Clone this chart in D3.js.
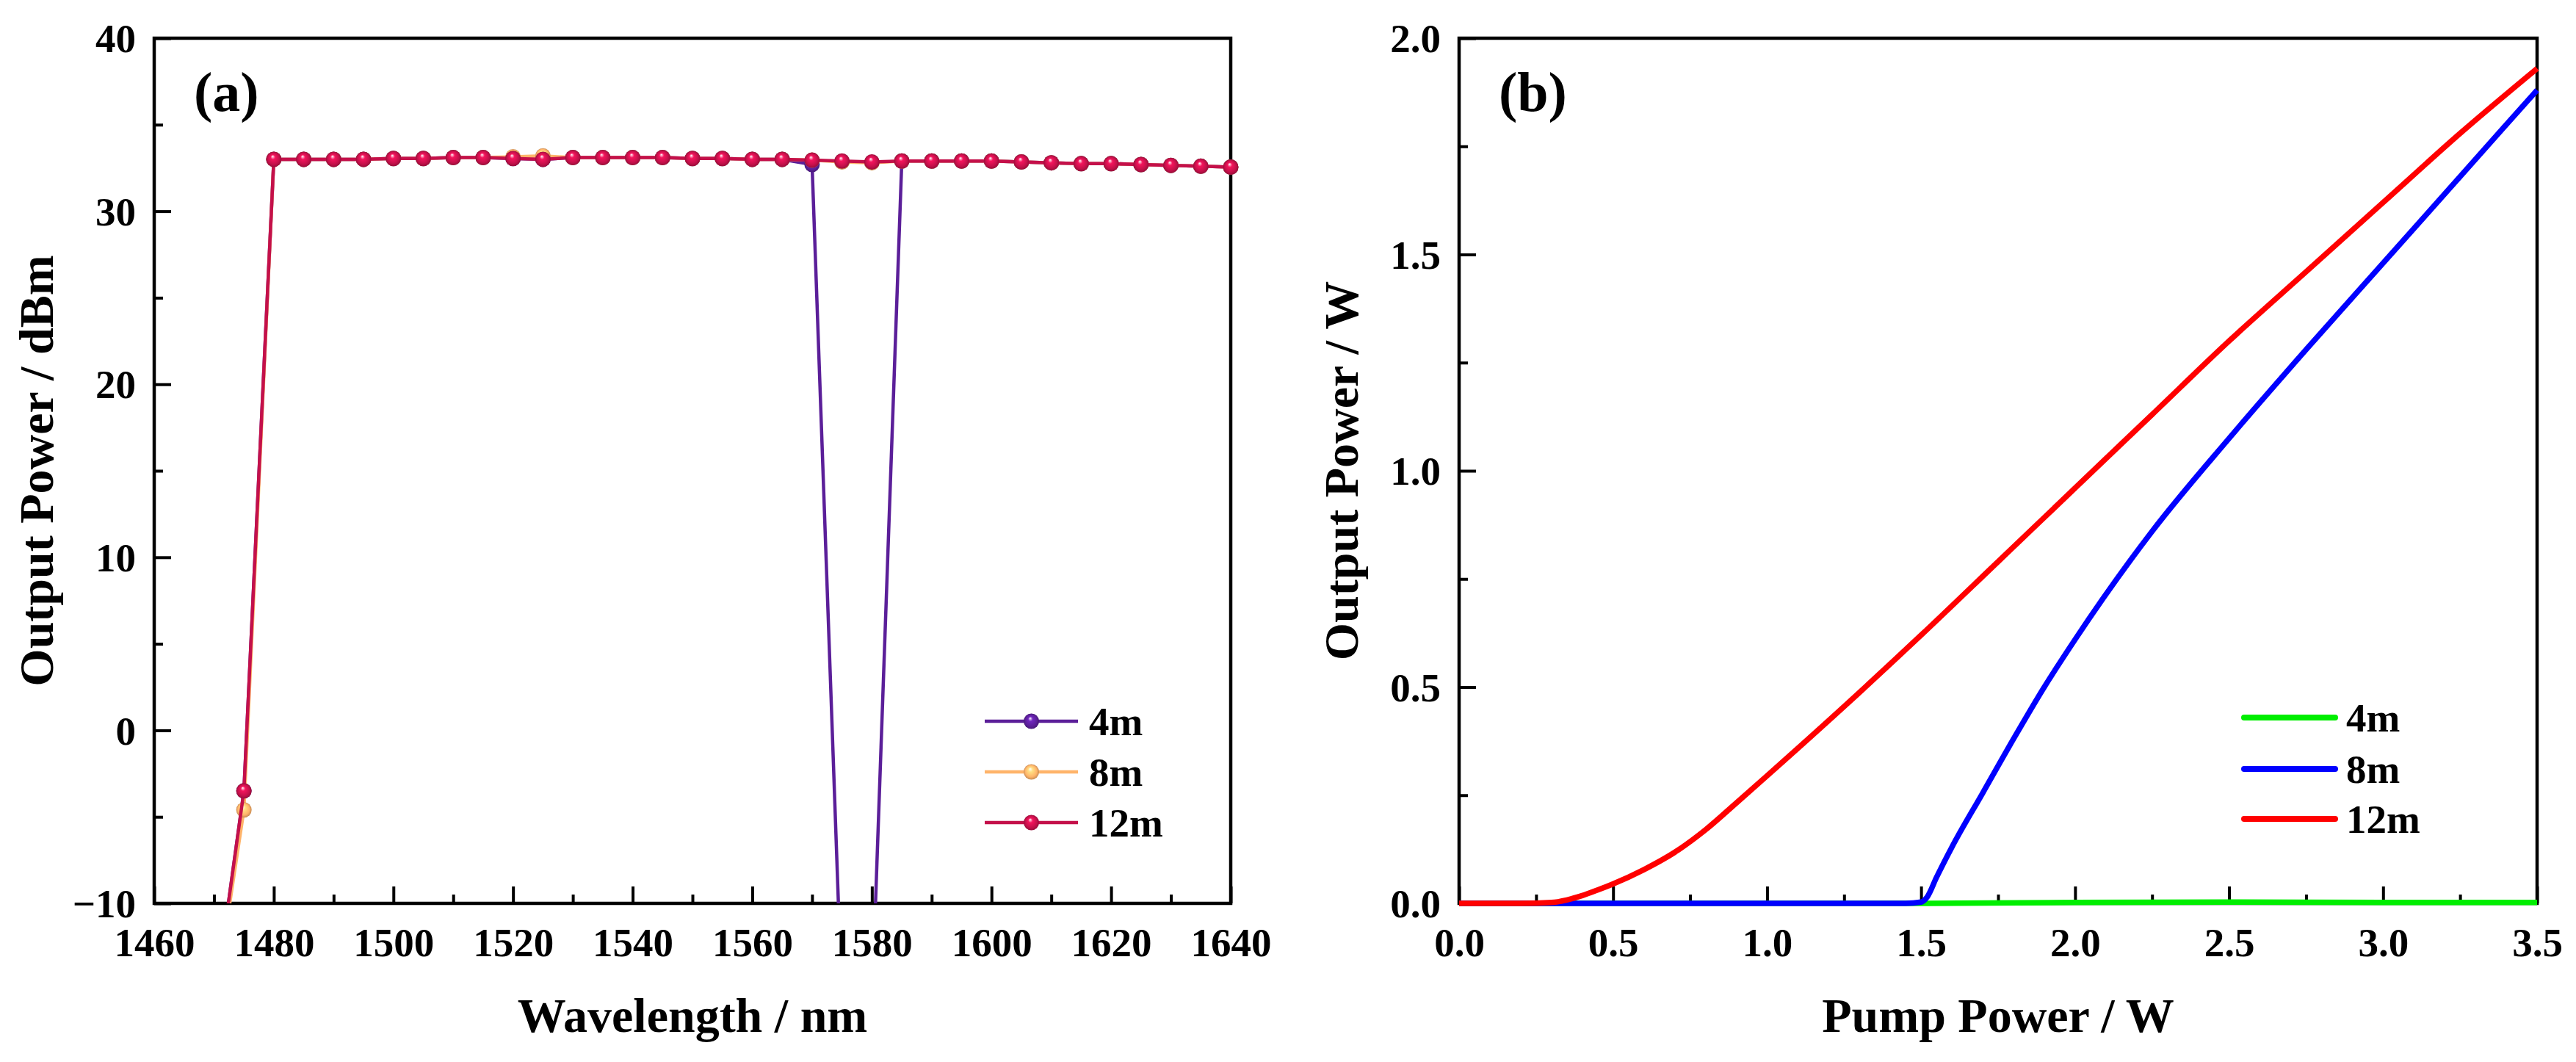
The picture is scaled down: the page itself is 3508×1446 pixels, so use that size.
<!DOCTYPE html>
<html>
<head>
<meta charset="utf-8">
<script src="https://cdn.jsdelivr.net/npm/d3@7"></script>
<style>
  body { margin: 0; background: #fff; }
  text { font-family: "Liberation Serif", "Times New Roman", serif; font-weight: bold; fill: #000; }
</style>
</head>
<body>
<div id="chart"></div>
<script>
"use strict";

// ---- panel (a): output spectrum vs wavelength ----
const wavelengths = [1470, 1475, 1480, 1485, 1490, 1495, 1500, 1505, 1510, 1515, 1520, 1525,
  1530, 1535, 1540, 1545, 1550, 1555, 1560, 1565, 1570, 1575, 1580, 1585, 1590, 1595,
  1600, 1605, 1610, 1615, 1620, 1625, 1630, 1635, 1640];
const spec4m = [-16, -3.5, 33.0, 33.0, 33.0, 33.0, 33.05, 33.05, 33.1, 33.1, 33.05, 33.0,
  33.1, 33.1, 33.1, 33.1, 33.05, 33.05, 33.0, 33.0, 32.7, -15.8, -15.9, 32.9, 32.9, 32.9,
  32.9, 32.85, 32.8, 32.75, 32.75, 32.7, 32.65, 32.6, 32.55];
const spec8m = [-16, -4.6, 33.0, 33.0, 33.0, 33.0, 33.05, 33.05, 33.1, 33.1, 33.15, 33.2,
  33.1, 33.1, 33.1, 33.1, 33.05, 33.05, 33.0, 33.0, 32.95, 32.85, 32.8, 32.9, 32.9, 32.9,
  32.9, 32.85, 32.8, 32.75, 32.75, 32.7, 32.65, 32.6, 32.55];
const spec12m = [-16, -3.5, 33.0, 33.0, 33.0, 33.0, 33.05, 33.05, 33.1, 33.1, 33.05, 33.0,
  33.1, 33.1, 33.1, 33.1, 33.05, 33.05, 33.0, 33.0, 32.95, 32.9, 32.85, 32.9, 32.9, 32.9,
  32.9, 32.85, 32.8, 32.75, 32.75, 32.7, 32.65, 32.6, 32.55];
const specNames = ["4m", "8m", "12m"];
const specColors = ["#5b1f99", "#ffb46a", "#c4104a"];
const wlTicks = [1460, 1480, 1500, 1520, 1540, 1560, 1580, 1600, 1620, 1640];
const wlMinor = [1470, 1490, 1510, 1530, 1550, 1570, 1590, 1610, 1630];
const dbmTicks = [-10, 0, 10, 20, 30, 40];
const dbmMinor = [-5, 5, 15, 25, 35];

// ---- panel (b): output power vs pump power ----
const pump4m = [0, 0.5, 1.0, 1.5, 2.0, 2.5, 3.0, 3.5];
const out4m = [0, 0, 0, 0, 0.002, 0.003, 0.002, 0.002];
const pump8m = [0, 0.5, 1.0, 1.45, 1.5, 1.52, 1.55, 1.6, 1.7, 1.8, 1.9, 2.0, 2.25, 2.5, 2.75, 3.0, 3.25, 3.5];
const out8m = [0, 0, 0, 0, 0.003, 0.015, 0.06, 0.13, 0.255, 0.38, 0.5, 0.61, 0.86, 1.075, 1.28, 1.48, 1.68, 1.88];
const pump12m = [0, 0.2, 0.3, 0.35, 0.4, 0.45, 0.5, 0.6, 0.7, 0.8, 0.9, 1.0, 1.25, 1.5, 1.75, 2.0, 2.25, 2.5, 2.75, 3.0, 3.25, 3.5];
const out12m = [0, 0, 0.002, 0.008, 0.018, 0.031, 0.045, 0.078, 0.118, 0.17, 0.232, 0.295, 0.455, 0.62, 0.79, 0.96, 1.13, 1.3, 1.46, 1.62, 1.78, 1.93];
const powNames = ["4m", "8m", "12m"];
const powColors = ["#00ee00", "#0000ff", "#ff0000"];
const pumpTicks = [0, 0.5, 1.0, 1.5, 2.0, 2.5, 3.0, 3.5];
const pumpMinor = [0.25, 0.75, 1.25, 1.75, 2.25, 2.75, 3.25];
const wTicks = [0, 0.5, 1.0, 1.5, 2.0];
const wMinor = [0.25, 0.75, 1.25, 1.75];

const W = 3508, H = 1446;
const plotTop = 52, plotBottom = 1230;

const svg = d3.select("#chart").append("svg")
  .attr("width", W)
  .attr("height", H);

const defs = svg.append("defs");

function drawAxes(box, x, y, xt, xm, yt, ym, fmtX, fmtY, xTitle, yTitle, tag) {
  let g = svg.append("g");

  g.append("g")
    .attr("transform", "translate(0," + box.bottom + ")")
    .call(d3.axisBottom(x).tickValues(xm).tickSize(-12).tickFormat(""));
  g.append("g")
    .attr("transform", "translate(" + box.left + ",0)")
    .call(d3.axisLeft(y).tickValues(ym).tickSize(-12).tickFormat(""));

  let xa = g.append("g")
    .attr("transform", "translate(0," + box.bottom + ")")
    .call(d3.axisBottom(x).tickValues(xt).tickSize(-23).tickFormat(fmtX));
  xa.selectAll("text")
    .attr("y", 72).attr("dy", 0)
    .style("font-size", "55px");

  let ya = g.append("g")
    .attr("transform", "translate(" + box.left + ",0)")
    .call(d3.axisLeft(y).tickValues(yt).tickSize(-23).tickPadding(25).tickFormat(fmtY));
  ya.selectAll("text")
    .attr("dy", "0.34em")
    .style("font-size", "55px");

  g.selectAll(".domain").remove();
  g.selectAll(".tick line").attr("stroke", "#000").attr("stroke-width", 4);
  g.selectAll("g").attr("font-family", null).attr("font-size", null);

  g.append("rect")
    .attr("x", box.left).attr("y", box.top)
    .attr("width", box.right - box.left).attr("height", box.bottom - box.top)
    .attr("fill", "none").attr("stroke", "#000").attr("stroke-width", 4.5);

  g.append("text")
    .attr("x", (box.left + box.right) / 2).attr("y", 1405)
    .attr("text-anchor", "middle")
    .style("font-size", "66px")
    .text(xTitle);

  g.append("text")
    .attr("transform", "translate(" + (box.left - 138) + "," + ((box.top + box.bottom) / 2) + ") rotate(-90)")
    .attr("text-anchor", "middle")
    .style("font-size", "66px")
    .text(yTitle);

  g.append("text")
    .attr("x", box.left + 54).attr("y", 151)
    .style("font-size", "76px")
    .text(tag);
}

// ---------- panel (a) ----------
const boxA = {left: 210, right: 1676, top: plotTop, bottom: plotBottom};
const xA = d3.scaleLinear().domain([1460, 1640]).range([boxA.left, boxA.right]);
const yA = d3.scaleLinear().domain([-10, 40]).range([boxA.bottom, boxA.top]);

drawAxes(boxA, xA, yA, wlTicks, wlMinor, dbmTicks, dbmMinor,
  d3.format("d"), d => d < 0 ? "\u2212" + Math.abs(d) : d,
  "Wavelength / nm", "Output Power / dBm", "(a)");

defs.append("clipPath").attr("id", "clipA")
  .append("rect")
  .attr("x", boxA.left).attr("y", boxA.top)
  .attr("width", boxA.right - boxA.left).attr("height", boxA.bottom - boxA.top);

specColors.forEach((c, i) => {
  let grad = defs.append("radialGradient")
    .attr("id", "ball" + i)
    .attr("cx", "50%").attr("cy", "50%").attr("r", "50%")
    .attr("fx", "42%").attr("fy", "30%");
  grad.append("stop").attr("offset", "0%").attr("stop-color", "#ffffff");
  grad.append("stop").attr("offset", "30%").attr("stop-color", d3.color(c).brighter(0.6));
  grad.append("stop").attr("offset", "75%").attr("stop-color", c);
  grad.append("stop").attr("offset", "100%").attr("stop-color", d3.color(c).darker(0.7));
});

const specSeries = [spec4m, spec8m, spec12m].map((vals, i) => ({
  name: specNames[i],
  color: specColors[i],
  points: wavelengths.map((w, j) => ({x: w, y: vals[j]}))
}));

const lineA = d3.line().x(d => xA(d.x)).y(d => yA(d.y));

specSeries.forEach((s, i) => {
  let g = svg.append("g");
  g.append("path")
    .datum(s.points)
    .attr("clip-path", "url(#clipA)")
    .attr("fill", "none")
    .attr("stroke", s.color)
    .attr("stroke-width", 4.5)
    .attr("d", lineA);
  g.selectAll("circle")
    .data(s.points.filter(d => d.y >= -10))
    .enter().append("circle")
    .attr("cx", d => xA(d.x))
    .attr("cy", d => yA(d.y))
    .attr("r", 10.5)
    .attr("fill", "url(#ball" + i + ")");
});

// legend (a)
const legA = svg.append("g");
const legRowsA = [982, 1051, 1120];
specSeries.forEach((s, i) => {
  let row = legA.append("g").attr("transform", "translate(0," + legRowsA[i] + ")");
  row.append("line")
    .attr("x1", 1341).attr("x2", 1468)
    .attr("stroke", s.color).attr("stroke-width", 4.5);
  row.append("circle")
    .attr("cx", 1404.5).attr("r", 10.5)
    .attr("fill", "url(#ball" + i + ")");
  row.append("text")
    .attr("x", 1483).attr("dy", "0.34em")
    .style("font-size", "55px")
    .text(s.name);
});

// ---------- panel (b) ----------
const boxB = {left: 1987, right: 3455, top: plotTop, bottom: plotBottom};
const xB = d3.scaleLinear().domain([0, 3.5]).range([boxB.left, boxB.right]);
const yB = d3.scaleLinear().domain([0, 2.0]).range([boxB.bottom, boxB.top]);

drawAxes(boxB, xB, yB, pumpTicks, pumpMinor, wTicks, wMinor,
  d3.format(".1f"), d3.format(".1f"),
  "Pump Power / W", "Output Power / W", "(b)");

const powSeries = [[pump4m, out4m], [pump8m, out8m], [pump12m, out12m]].map((p, i) => ({
  name: powNames[i],
  color: powColors[i],
  points: p[0].map((x, j) => ({x: x, y: p[1][j]}))
}));

const lineB = d3.line()
  .x(d => xB(d.x))
  .y(d => yB(d.y))
  .curve(d3.curveMonotoneX);

powSeries.forEach(s => {
  svg.append("path")
    .datum(s.points)
    .attr("fill", "none")
    .attr("stroke", s.color)
    .attr("stroke-width", 7.5)
    .attr("stroke-linejoin", "round")
    .attr("d", lineB);
});

// legend (b)
const legB = svg.append("g");
const legRowsB = [977, 1047, 1115];
powSeries.forEach((s, i) => {
  let row = legB.append("g").attr("transform", "translate(0," + legRowsB[i] + ")");
  row.append("line")
    .attr("x1", 3056).attr("x2", 3180)
    .attr("stroke", s.color).attr("stroke-width", 8)
    .attr("stroke-linecap", "round");
  row.append("text")
    .attr("x", 3195).attr("dy", "0.34em")
    .style("font-size", "55px")
    .text(s.name);
});
</script>
</body>
</html>
